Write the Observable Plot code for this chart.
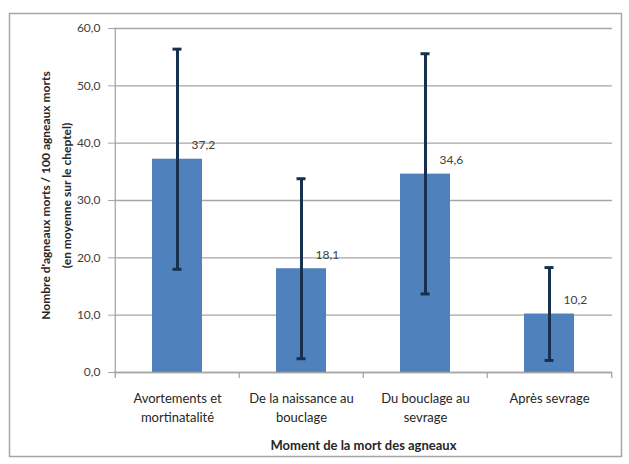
<!DOCTYPE html>
<html><head><meta charset="utf-8">
<script src="https://cdn.jsdelivr.net/npm/d3@7"></script>
<script src="https://cdn.jsdelivr.net/npm/@observablehq/plot@0.6"></script>
<style>
body{margin:0;background:#fff;}
svg{display:block;}
</style></head><body><div id="wrap"></div>
<script>
const categories = ["Avortements et\nmortinatalité", "De la naissance au\nbouclage", "Du bouclage au\nsevrage", "Après sevrage"];
const means = [37.2, 18.1, 34.6, 10.2];
const lows = [18.0, 2.4, 13.7, 2.1];
const highs = [56.4, 33.8, 55.6, 18.3];
const yTicks = [0, 10, 20, 30, 40, 50, 60];
const xTitle = "Moment de la mort des agneaux";
const yTitle = "Nombre d'agneaux morts / 100 agneaux morts\n(en moyenne sur le cheptel)";

const data = categories.map((c, i) => ({cat: c, mean: means[i], lo: lows[i], hi: highs[i]}));
const fr = v => d3.format(".1f")(v).replace(".", ",");

const W = 629, H = 464, mL = 114, mR = 17, mT = 28, mB = 92;
const step = (W - mL - mR) / categories.length;
const grid = "#a6a6a6", err = "#17304f", txt = "#404040";

const chart = Plot.plot({
  width: W, height: H, marginLeft: mL, marginRight: mR, marginTop: mT, marginBottom: mB,
  style: {fontFamily: "Lato", fontSize: "12px", color: txt, background: "#fff", overflow: "visible"},
  x: {domain: categories, paddingInner: 0.6, paddingOuter: 0.3, axis: null},
  y: {domain: [0, 60], axis: null},
  marks: [
    Plot.frame({stroke: grid, strokeWidth: 1.5, insetLeft: -105, insetTop: -15, insetRight: -9, insetBottom: -84}),
    Plot.gridY(yTicks, {stroke: grid, strokeOpacity: 1, strokeWidth: 1.3}),
    Plot.axisY(yTicks, {tickSize: 6, tickPadding: 8, tickFormat: fr, stroke: grid, fill: txt, label: null, fontSize: 12}),
    Plot.ruleX([categories[0]], {x: d => d, dx: -step / 2, stroke: grid, strokeWidth: 1.3}),
    Plot.barY(data, {x: "cat", y: "mean", fill: "#4f81bd"}),
    Plot.ruleY([0], {stroke: grid, strokeWidth: 1.3}),
    Plot.ruleX(categories, {x: d => d, dx: -step / 2, y1: 0, y2: 0, insetBottom: -6, stroke: grid, strokeWidth: 1.3}),
    Plot.ruleX([categories[categories.length - 1]], {x: d => d, dx: step / 2, y1: 0, y2: 0, insetBottom: -6, stroke: grid, strokeWidth: 1.3}),
    Plot.ruleX(data, {x: "cat", y1: "lo", y2: "hi", stroke: err, strokeWidth: 3}),
    Plot.tickY(data, {x: "cat", y: "hi", stroke: err, strokeWidth: 3, insetLeft: 20.5, insetRight: 20.5}),
    Plot.tickY(data, {x: "cat", y: "lo", stroke: err, strokeWidth: 3, insetLeft: 20.5, insetRight: 20.5}),
    Plot.text(data, {x: "cat", y: "mean", text: d => fr(d.mean), dx: 14, dy: -14, textAnchor: "start", fill: txt, fontSize: 12}),
    Plot.text(data, {x: "cat", text: "cat", frameAnchor: "bottom", dy: 17, lineAnchor: "top", fontSize: 13, lineHeight: 1.48, fill: "#262626"}),
    Plot.text([xTitle], {frameAnchor: "bottom", dy: 77, fontWeight: "bold", fontSize: 13, fill: "#262626"}),
    Plot.text([yTitle], {frameAnchor: "left", textAnchor: "middle", lineAnchor: "middle", rotate: -90, dx: -61, dy: -5, fontWeight: "bold", fontSize: 12, lineHeight: 1.75, fill: "#262626"})
  ]
});
document.getElementById("wrap").append(chart);
</script>
</body></html>
